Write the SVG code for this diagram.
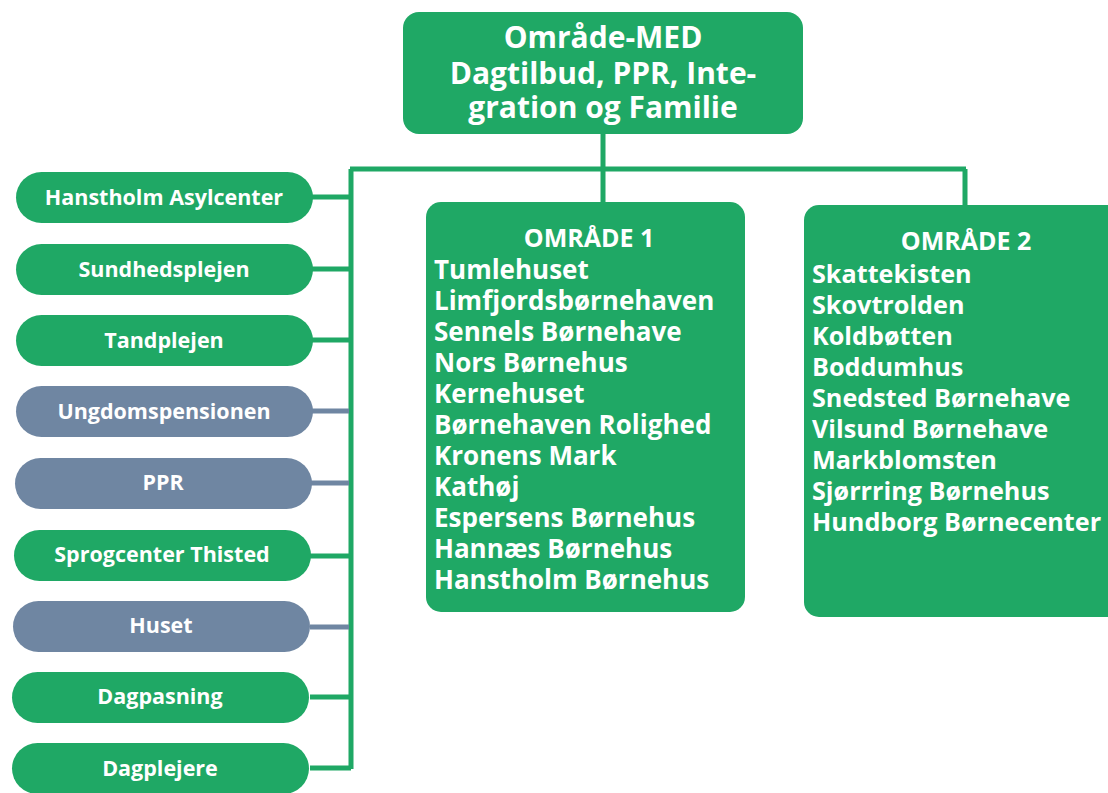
<svg xmlns="http://www.w3.org/2000/svg" width="1108" height="793" viewBox="0 0 1108 793">
<style>
.g{fill:#1fa865}
.b{fill:#6f86a2}
.t{font-family:"Open Sans","Liberation Sans",sans-serif;font-weight:bold;fill:#fff}
.pill{font-size:21.5px;text-anchor:middle}
.head{font-size:30px;text-anchor:middle}
.area{font-size:25px;text-anchor:middle}
.item{font-size:26px}
.item2{font-size:25.2px}
.cg{stroke:#1fa865;stroke-width:5;fill:none}
.cb{stroke:#6f86a2;stroke-width:5;fill:none}
</style>
<rect width="1108" height="793" fill="#fff"/>
<g id="connectors">
<path class="cg" d="M603 133V169M350 169H966M603 169V204M965 169V206M351 169V769"/>
<path class="cg" d="M310 197H351M310 269H351M310 340H351M310 556H351M310 697H351M310 768H351"/>
<path class="cb" d="M310 411H349M310 483H349M310 627H349"/>
</g>
<g id="top">
<rect class="g" x="403" y="12" width="400" height="122" rx="16"/>
<text class="t head"><tspan x="603" y="48">Område-MED</tspan><tspan x="603" y="84">Dagtilbud, PPR, Inte-</tspan><tspan x="603" y="118">gration og Familie</tspan></text>
</g>
<g id="hanstholm-asylcenter"><rect class="g" x="16" y="172" width="297" height="51" rx="25.5"/><text class="t pill" x="164" y="205">Hanstholm Asylcenter</text></g>
<g id="sundhedsplejen"><rect class="g" x="16" y="244" width="297" height="51" rx="25.5"/><text class="t pill" x="164" y="277">Sundhedsplejen</text></g>
<g id="tandplejen"><rect class="g" x="16" y="315" width="297" height="51" rx="25.5"/><text class="t pill" x="164" y="348">Tandplejen</text></g>
<g id="ungdomspensionen"><rect class="b" x="16" y="386" width="297" height="51" rx="25.5"/><text class="t pill" x="164" y="419">Ungdomspensionen</text></g>
<g id="ppr"><rect class="b" x="15" y="458" width="297" height="51" rx="25.5"/><text class="t pill" x="163" y="490">PPR</text></g>
<g id="sprogcenter-thisted"><rect class="g" x="14" y="530" width="297" height="51" rx="25.5"/><text class="t pill" x="162" y="562">Sprogcenter Thisted</text></g>
<g id="huset"><rect class="b" x="13" y="601" width="297" height="51" rx="25.5"/><text class="t pill" x="161" y="633">Huset</text></g>
<g id="dagpasning"><rect class="g" x="12" y="672" width="297" height="51" rx="25.5"/><text class="t pill" x="160" y="704">Dagpasning</text></g>
<g id="dagplejere"><rect class="g" x="12" y="743" width="297" height="51" rx="25.5"/><text class="t pill" x="160" y="776">Dagplejere</text></g>
<g id="omraade1">
<rect class="g" x="426" y="202" width="319" height="410" rx="15"/>
<text class="t area" x="589" y="247">OMRÅDE 1</text>
<text class="t item"><tspan x="434" y="279">Tumlehuset</tspan><tspan x="434" y="310">Limfjordsbørnehaven</tspan><tspan x="434" y="341">Sennels Børnehave</tspan><tspan x="434" y="372">Nors Børnehus</tspan><tspan x="434" y="403">Kernehuset</tspan><tspan x="434" y="434">Børnehaven Rolighed</tspan><tspan x="434" y="465">Kronens Mark</tspan><tspan x="434" y="496">Kathøj</tspan><tspan x="434" y="527">Espersens Børnehus</tspan><tspan x="434" y="558">Hannæs Børnehus</tspan><tspan x="434" y="589">Hanstholm Børnehus</tspan></text>
</g>
<g id="omraade2">
<rect class="g" x="804" y="205" width="320" height="412" rx="15"/>
<text class="t area" x="966" y="250">OMRÅDE 2</text>
<text class="t item2"><tspan x="812" y="283">Skattekisten</tspan><tspan x="812" y="314">Skovtrolden</tspan><tspan x="812" y="345">Koldbøtten</tspan><tspan x="812" y="376">Boddumhus</tspan><tspan x="812" y="407">Snedsted Børnehave</tspan><tspan x="812" y="438">Vilsund Børnehave</tspan><tspan x="812" y="469">Markblomsten</tspan><tspan x="812" y="500">Sjørrring Børnehus</tspan><tspan x="812" y="531">Hundborg Børnecenter</tspan></text>
</g>
</svg>
